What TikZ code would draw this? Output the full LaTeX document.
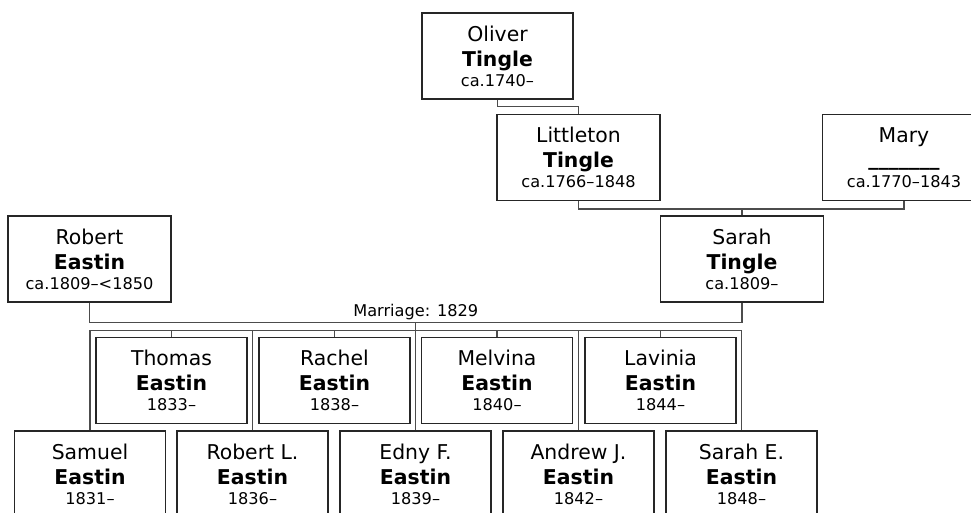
\documentclass[tikz,border=0pt]{standalone}
\usepackage{fontspec}
\setmainfont{DejaVu Sans}
\newcommand{\namesize}{\fontsize{11.6pt}{14.2pt}\selectfont}
\newcommand{\datesize}{\fontsize{9.2pt}{11pt}\selectfont}
\tikzset{
  person/.style={draw=black!85, line width=0.7pt, minimum width=3.02cm, minimum height=1.72cm, inner sep=0pt, align=center, font=\namesize},
  wideperson/.style={person, minimum width=3.26cm},
  link/.style={draw=black!70, line width=0.8pt},
}

\begin{document}
\begin{tikzpicture}[x=0.02cm,y=-0.02cm]
            \useasboundingbox (0,0) rectangle (971,512);

            % grandparents and parents
            \node[person] (oliver) at (497.5,56) {Oliver\\\textbf{Tingle}\\[-0.1cm]{\datesize ca.1740–}};
            \node[wideperson] (littleton) at (578.5,157.5) {Littleton\\\textbf{Tingle}\\[-0.1cm]{\datesize ca.1766–1848}};
            \node[wideperson] (mary) at (904,157.5) {Mary\\\smash{\raisebox{1.2pt}{\textbf{\_\_\_\_\_\_\_}}}\\[-0.1cm]{\datesize ca.1770–1843}};
            \node[wideperson] (sarah) at (742,259) {Sarah\\\textbf{Tingle}\\[-0.1cm]{\datesize ca.1809–}};
            \node[wideperson] (robert) at (89.5,259) {Robert\\\textbf{Eastin}\\[-0.1cm]{\datesize ca.1809–<1850}};

            % children, upper row
            \node[person] (thomas) at (171.5,380.5) {Thomas\\\textbf{Eastin}\\[-0.1cm]{\datesize 1833–}};
            \node[person] (rachel) at (334.5,380.5) {Rachel\\\textbf{Eastin}\\[-0.1cm]{\datesize 1838–}};
            \node[person] (melvina) at (497,380.5) {Melvina\\\textbf{Eastin}\\[-0.1cm]{\datesize 1840–}};
            \node[person] (lavinia) at (660.5,380.5) {Lavinia\\\textbf{Eastin}\\[-0.1cm]{\datesize 1844–}};

            % children, lower row
            \node[person] (samuel) at (90,474) {Samuel\\\textbf{Eastin}\\[-0.1cm]{\datesize 1831–}};
            \node[person] (robertl) at (252.5,474) {Robert L.\\\textbf{Eastin}\\[-0.1cm]{\datesize 1836–}};
            \node[person] (edny) at (415.5,474) {Edny F.\\\textbf{Eastin}\\[-0.1cm]{\datesize 1839–}};
            \node[person] (andrew) at (578.5,474) {Andrew J.\\\textbf{Eastin}\\[-0.1cm]{\datesize 1842–}};
            \node[person] (sarahe) at (741.5,474) {Sarah E.\\\textbf{Eastin}\\[-0.1cm]{\datesize 1848–}};

            \draw[link] (oliver.south) -- ++(0,7) -| (littleton.north);
            \draw[link] (littleton.south) -- ++(0,8) coordinate (lm) -| (mary.south);
            \draw[link] (sarah.north) -- (sarah.north |- lm);

            \draw[link] (robert.south) -- ++(0,20) -| node[pos=0.25, above, font=\datesize, inner sep=1pt] {Marriage: 1829} coordinate[pos=0.25] (wed) (sarah.south);
            \draw[link] (wed) -- ++(0,8) coordinate (kids);
            \draw[link] (samuel.north) |- (kids) -| (sarahe.north);
            \foreach \c in {robertl,edny,andrew,thomas,rachel,melvina,lavinia}
                \draw[link] (\c.north) -- (\c.north |- kids);
        \end{tikzpicture}
\end{document}
